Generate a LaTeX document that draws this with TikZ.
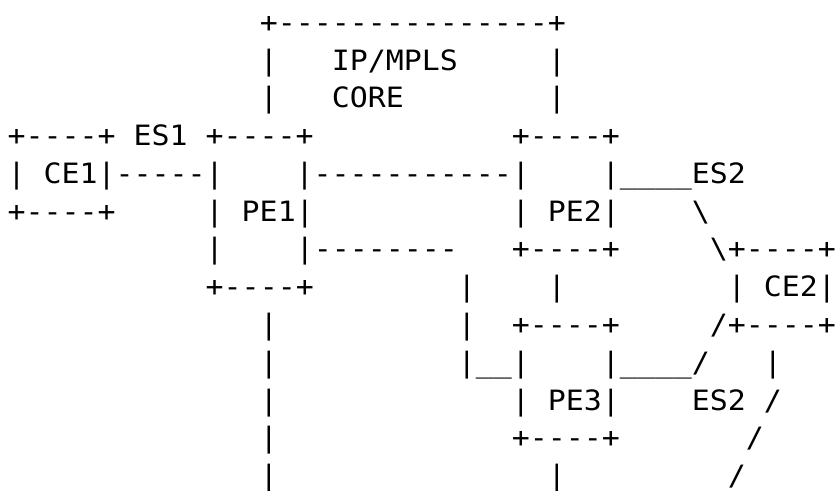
\documentclass[tikz,border=0pt]{standalone}
\usepackage{fontspec}
\setmonofont{DejaVu Sans Mono}[FakeStretch=1.068]
\usepackage{tikz}
\newcommand\gap[1]{\hbox to #1\fontcharwd\font`\x{}}
\tikzset{
  asciirow/.style={anchor=base west,inner sep=0pt,outer sep=0pt,
    font=\ttfamily\fontsize{28bp}{37.75bp}\selectfont,text=black},
}

\begin{document}
\begin{tikzpicture}[x=1bp,y=1bp]
  \useasboundingbox (0,0) rectangle (836,-491);
  \clip (0,0) rectangle (836,-491);
  % core box and PE tops
  \node[asciirow] (row0) at (7.7,-32.5) {\gap{14}+---------------+};
  \node[asciirow] (row1) at (7.7,-70.25) {\gap{14}|\gap{3}IP/MPLS\gap{5}|};
  \node[asciirow] (row2) at (7.7,-108) {\gap{14}|\gap{3}CORE\gap{8}|};
  \node[asciirow] (row3) at (7.7,-145.75) {+----+ ES1 +----+\gap{11}+----+};
  % CE1 -- PE1 -- PE2 links
  \node[asciirow] (row4) at (7.7,-183.5) {| CE1|-----|\gap{4}|-----------|\gap{4}|\_\_\_\_ES2};
  \node[asciirow] (row5) at (7.7,-221.25) {+----+\gap{5}| PE1|\gap{11}| PE2|\gap{4}\textbackslash};
  \node[asciirow] (row6) at (7.7,-259) {\gap{11}|\gap{4}|--------\gap{3}+----+\gap{5}\textbackslash+----+};
  \node[asciirow] (row7) at (7.7,-296.75) {\gap{11}+----+\gap{8}|\gap{4}|\gap{9}| CE2|};
  % PE3 and second ES2 leg
  \node[asciirow] (row8) at (7.7,-334.5) {\gap{14}|\gap{10}|\gap{2}+----+\gap{5}/+----+};
  \node[asciirow] (row9) at (7.7,-372.25) {\gap{14}|\gap{10}|\_\_|\gap{4}|\_\_\_\_/\gap{3}|};
  \node[asciirow] (row10) at (7.7,-410) {\gap{14}|\gap{13}| PE3|\gap{4}ES2 /};
  \node[asciirow] (row11) at (7.7,-447.75) {\gap{14}|\gap{13}+----+\gap{7}/};
  \node[asciirow] (row12) at (7.7,-485.5) {\gap{14}|\gap{15}|\gap{9}/};
\end{tikzpicture}
\end{document}
